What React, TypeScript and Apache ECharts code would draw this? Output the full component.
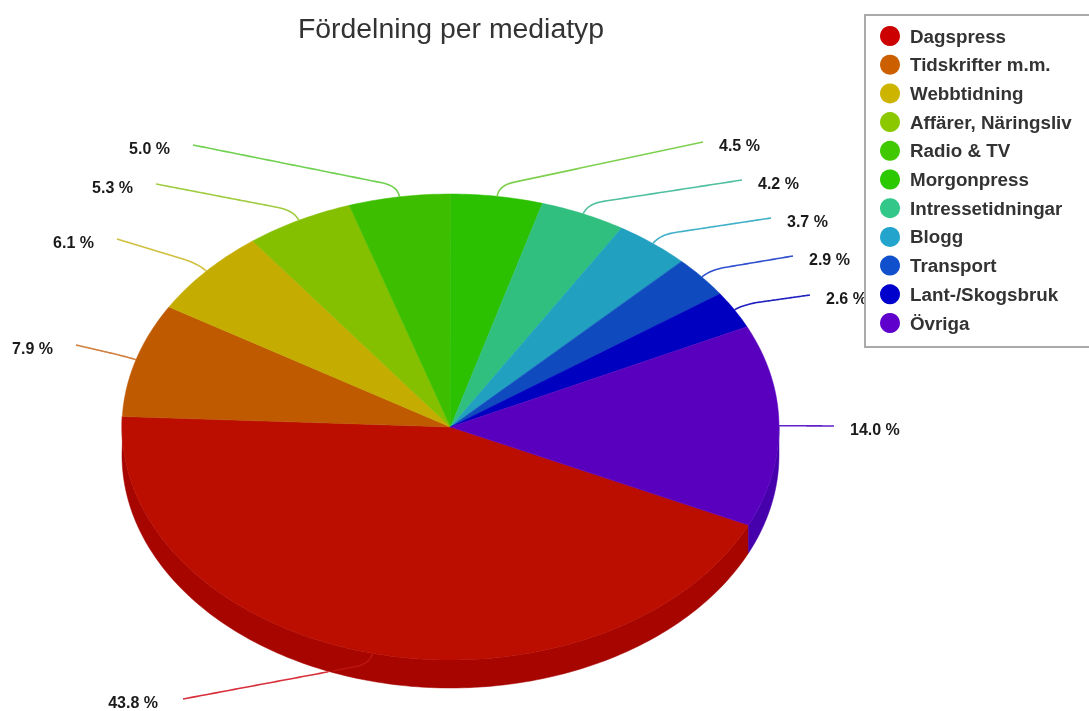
import React, { useEffect, useRef } from "react";
import * as echarts from "echarts";

const categories = ["Dagspress", "Tidskrifter m.m.", "Webbtidning", "Affärer, Näringsliv", "Radio & TV", "Morgonpress", "Intressetidningar", "Blogg", "Transport", "Lant-/Skogsbruk", "Övriga"];
const shares = [43.8, 7.9, 6.1, 5.3, 5.0, 4.5, 4.2, 3.7, 2.9, 2.6, 14.0];

const sliceColors = ["#BB0D00", "#BF5A00", "#C4AD00", "#84BF00", "#3DBF00", "#2BC000", "#30BF7E", "#22A0C0", "#0F4BBF", "#0000C0", "#5900BF"];
const wallColors = ["#A60500", "#A34C00", "#A69300", "#70A300", "#34A300", "#25A300", "#29A36B", "#1D88A3", "#0D40A3", "#0000A3", "#4600AC"];
const legendColors = ["#CC0000", "#CC6000", "#CCB400", "#8CC800", "#40C800", "#2CC800", "#33C88A", "#22A4CC", "#1050CC", "#0000CC", "#6000CC"];
const leaderColors = ["#D8303A", "#D08040", "#D0C040", "#A0CC40", "#70D050", "#80D050", "#50C0A0", "#40B0C8", "#3050D0", "#2020C0", "#6020C8"];

// Where each leader line ends (layout only)
const leaderEnds = [[183, 699], [76, 345], [117, 239], [156, 184], [193, 145], [703, 142], [742, 180], [771, 218], [793, 256], [810, 295], [834, 426]];

const CX = 450.5, CY = 427, RX = 328.5, RY = 233, DEPTH = 28;
const START_DEG = 24.9;
const FONT = "Liberation Sans";

const rad = (d: number) => (d * Math.PI) / 180;
const pt = (d: number, dy = 0): [number, number] => [CX + RX * Math.cos(rad(d)), CY + dy + RY * Math.sin(rad(d))];

function arc(a: number, b: number, dy = 0) {
  const out: [number, number][] = [];
  const n = Math.max(2, Math.ceil(Math.abs(b - a)));
  for (let i = 0; i <= n; i++) out.push(pt(a + ((b - a) * i) / n, dy));
  return out;
}

function sliceRange(i: number) {
  const before = shares.slice(0, i).reduce((s, v) => s + v, 0);
  const a = START_DEG + (before / 100) * 360;
  return [a, a + (shares[i] / 100) * 360];
}

const overWall = (p: number[]) => ((p[0] - CX) / RX) ** 2 + ((p[1] - CY - DEPTH) / RY) ** 2 < 1;

function renderSlice(i: number) {
  const [a, b] = sliceRange(i);
  const children: any[] = [];
  const segs: [number, number][] = [[Math.max(a, 0), Math.min(b, 180)], [Math.max(a, 360), Math.min(b, 540)]];
  // the rim stays visible a little past 180 degrees, where the red slice ends on the left
  if (i === 0) segs[0][1] = b;
  if (i === categories.length - 1) segs[1][1] = b;
  segs.forEach(([s, e]) => {
    if (e > s) {
      const pts = [...arc(s, e), ...arc(e, s, DEPTH)];
      children.push({ type: "polygon", shape: { points: pts }, style: { fill: wallColors[i], stroke: wallColors[i], lineWidth: 0.5 } });
    }
  });
  children.push({
    type: "polygon",
    shape: { points: [[CX, CY], ...arc(a, b)] },
    style: { fill: sliceColors[i], stroke: sliceColors[i], lineWidth: 0.5 },
  });
  const mid = (a + b) / 2;
  const anchor = pt(mid);
  const end = leaderEnds[i];
  const knee = [anchor[0] + Math.cos(rad(mid)) * 11, anchor[1] + Math.sin(rad(mid)) * 11];
  const kd = Math.hypot(end[0] - knee[0], end[1] - knee[1]);
  const f = Math.min(0.5, 16 / kd);
  const p = [knee[0] + (end[0] - knee[0]) * f, knee[1] + (end[1] - knee[1]) * f];
  const line: number[][] = [];
  for (let t = 0; t <= 1.0001; t += 0.1) {
    const u = 1 - t;
    line.push([
      u * u * anchor[0] + 2 * u * t * knee[0] + t * t * p[0],
      u * u * anchor[1] + 2 * u * t * knee[1] + t * t * p[1],
    ]);
  }
  for (let t = 0.025; t <= 1.0001; t += 0.025) {
    line.push([p[0] + (end[0] - p[0]) * t, p[1] + (end[1] - p[1]) * t]);
  }
  // the part of a leader that crosses the pie's side is drawn fainter, as it is in the picture
  const inner = line.filter(overWall);
  const outer = line.filter((q) => !overWall(q));
  if (inner.length > 1 && anchor[1] > CY) {
    children.push({
      type: "polyline",
      shape: { points: inner },
      style: { fill: null, stroke: "#BC1410", lineWidth: 1.6 },
    });
  }
  children.push({
    type: "polyline",
    shape: { points: anchor[1] > CY && inner.length > 1 ? outer : line },
    style: { fill: null, stroke: leaderColors[i], lineWidth: 1.6 },
  });
  const left = end[0] < CX;
  children.push({
    type: "text",
    x: left ? end[0] - 23 - (i === 0 ? 2 : 0) : end[0] + 16,
    y: end[1] + 3,
    style: {
      text: `${shares[i].toFixed(1)} %`,
      fill: "#1A1A1A",
      fontFamily: FONT,
      fontSize: 16,
      fontWeight: "bold",
      textAlign: left ? "right" : "left",
      textVerticalAlign: "middle",
    },
  });
  return { type: "group", children };
}

export default function App() {
  const ref = useRef<HTMLDivElement>(null);
  useEffect(() => {
    const chart = echarts.init(ref.current!, null, { renderer: "svg" });
    chart.setOption({
      animation: false,
      backgroundColor: "#FFFFFF",
      title: {
        text: "Fördelning per mediatyp",
        left: 446,
        top: 9,
        textAlign: "center",
        textStyle: { fontFamily: FONT, fontSize: 28.4, fontWeight: "normal", color: "#333333" },
      },
      legend: {
        orient: "vertical",
        left: 865,
        top: 15,
        icon: "circle",
        itemWidth: 20,
        itemHeight: 20,
        itemGap: 8.7,
        padding: [11, 60, 14, 15],
        borderColor: "#AAAAAA",
        borderWidth: 2,
        backgroundColor: "#FFFFFF",
        selectedMode: false,
        data: categories,
        textStyle: { fontFamily: FONT, fontSize: 18.8, fontWeight: "bold", color: "#333333", padding: [0, 0, 0, 5] },
      },
      series: categories.map((name, i) => ({
        type: "custom",
        name,
        coordinateSystem: "none",
        silent: true,
        itemStyle: { color: legendColors[i] },
        data: [[shares[i]]],
        renderItem: () => renderSlice(i),
      })),
    });
    return () => chart.dispose();
  }, []);
  return <div ref={ref} style={{ position: "fixed", left: 0, top: 0, width: 1089, height: 711, filter: "blur(0.4px)" }} />;
}
